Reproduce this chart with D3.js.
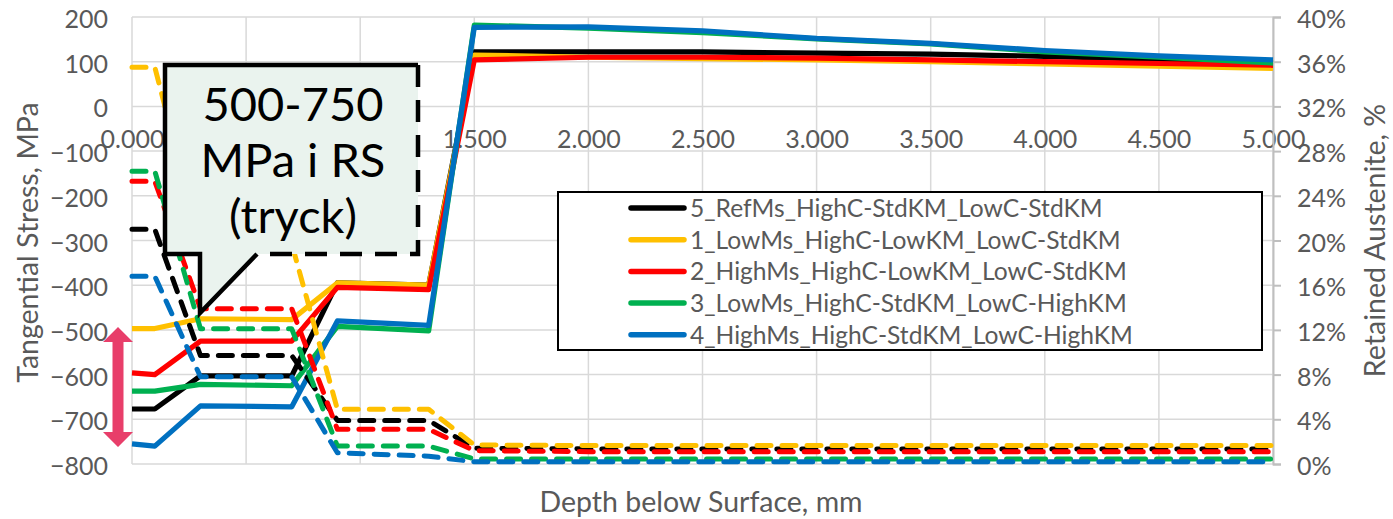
<!DOCTYPE html>
<html><head><meta charset="utf-8">
<script src="https://cdn.jsdelivr.net/npm/d3@7"></script>
<style>
html,body{margin:0;padding:0;background:#fff;}
text{font-family:Lato,"Open Sans",sans-serif;}
</style></head>
<body><svg id="c" width="1393" height="519"></svg>
<script>
// ---- data ----
const depth = [0, 0.1, 0.3, 0.7, 0.9, 1.3, 1.5, 2.0, 2.5, 3.0, 3.5, 4.0, 4.5, 5.0];
const seriesNames = [
  "5_RefMs_HighC-StdKM_LowC-StdKM",
  "1_LowMs_HighC-LowKM_LowC-StdKM",
  "2_HighMs_HighC-LowKM_LowC-StdKM",
  "3_LowMs_HighC-StdKM_LowC-HighKM",
  "4_HighMs_HighC-StdKM_LowC-HighKM"
];
const seriesColors = ["#000000", "#FFC000", "#FF0000", "#00B050", "#0070C0"];
// tangential stress, MPa (left axis)
const stress5 = [-677, -677, -603, -603, -395, -400, 122, 122, 122, 119, 117, 112, 105, 97];
const stress1 = [-497, -497, -475, -477, -395, -400, 115, 110, 107, 104, 100, 95, 90, 85];
const stress2 = [-596, -600, -525, -525, -405, -410, 104, 110, 110, 108, 104, 100, 96, 92];
const stress3 = [-637, -637, -622, -625, -492, -502, 182, 175, 165, 151, 140, 122, 110, 97];
const stress4 = [-755, -760, -670, -672, -480, -490, 177, 178, 169, 152, 141, 125, 113, 104];
// retained austenite, fraction (right axis)
const ra5 = [0.210, 0.210, 0.097, 0.097, 0.039, 0.039, 0.014, 0.0135, 0.0135, 0.0135, 0.0135, 0.0135, 0.0135, 0.0135];
const ra1 = [0.355, 0.355, 0.197, 0.197, 0.049, 0.049, 0.017, 0.0165, 0.0165, 0.0165, 0.0165, 0.0165, 0.0165, 0.0165];
const ra2 = [0.253, 0.253, 0.139, 0.139, 0.031, 0.031, 0.012, 0.011, 0.011, 0.011, 0.011, 0.011, 0.011, 0.011];
const ra3 = [0.262, 0.262, 0.121, 0.121, 0.016, 0.016, 0.0045, 0.0045, 0.0045, 0.0045, 0.0045, 0.0045, 0.0045, 0.0045];
const ra4 = [0.168, 0.168, 0.078, 0.078, 0.010, 0.007, 0.002, 0.002, 0.002, 0.002, 0.002, 0.002, 0.002, 0.002];
const stressTicks = [-800, -700, -600, -500, -400, -300, -200, -100, 0, 100, 200];
const raTicks = [0, 0.04, 0.08, 0.12, 0.16, 0.20, 0.24, 0.28, 0.32, 0.36, 0.40];
const depthTicks = [0, 0.5, 1, 1.5, 2, 2.5, 3, 3.5, 4, 4.5, 5];
const calloutLines = ["500-750", "MPa i RS", "(tryck)"];
const xTitle = "Depth below Surface, mm";
const yTitle = "Tangential Stress, MPa";
const y2Title = "Retained Austenite, %";

const stressSeries = [stress5, stress1, stress2, stress3, stress4];
const raSeries = [ra5, ra1, ra2, ra3, ra4];

// ---- layout ----
const svg = d3.select("#c");
const L = 132, R = 1273, T = 17, B = 464;
const x = d3.scaleLinear().domain([0, 5]).range([L, R]);
const y = d3.scaleLinear().domain([-800, 200]).range([B, T]);
const y2 = d3.scaleLinear().domain([0, 0.40]).range([B, T]);
const grey = "#595959", gridC = "#D9D9D9";
const tickFs = 25, titleFs = 28.5;

// gridlines
svg.append("g").selectAll("line").data(stressTicks).join("line")
  .attr("x1", L).attr("x2", R).attr("y1", d => y(d)).attr("y2", d => y(d))
  .attr("stroke", gridC).attr("stroke-width", 1.5);
svg.append("g").selectAll("line").data(depthTicks).join("line")
  .attr("x1", d => x(d)).attr("x2", d => x(d)).attr("y1", T).attr("y2", B)
  .attr("stroke", gridC).attr("stroke-width", 1.5);

// left axis labels
const yAxis = d3.axisLeft(y).tickValues(stressTicks).tickSize(0).tickPadding(24);
const gy = svg.append("g").attr("transform", `translate(${L},0)`).call(yAxis);
gy.select(".domain").remove();
gy.selectAll("text").attr("font-size", tickFs).attr("fill", grey).attr("font-family", "Lato").attr("dy", "0.42em");

// x axis labels at y=0
const xAxis = d3.axisBottom(x).tickValues(depthTicks).tickSize(0).tickPadding(24).tickFormat(d3.format(".3f"));
const gx = svg.append("g").attr("transform", `translate(0,${y(0)})`).call(xAxis);
gx.select(".domain").remove();
gx.selectAll("text").attr("font-size", tickFs).attr("fill", grey).attr("font-family", "Lato");

// right axis
const y2Axis = d3.axisRight(y2).tickValues(raTicks).tickSize(8).tickPadding(16).tickFormat(d3.format(".0%"));
const gy2 = svg.append("g").attr("transform", `translate(${R},0)`).call(y2Axis);
gy2.select(".domain").attr("stroke", "#BFBFBF").attr("stroke-width", 2);
gy2.selectAll(".tick line").attr("stroke", "#BFBFBF").attr("stroke-width", 2);
gy2.selectAll("text").attr("font-size", tickFs).attr("fill", grey).attr("font-family", "Lato").attr("dy", "0.42em");

// titles
svg.append("text").attr("transform", `translate(38,${(T+B)/2+2}) rotate(-90)`).attr("text-anchor", "middle")
  .attr("font-size", titleFs).attr("fill", grey).text(yTitle);
svg.append("text").attr("transform", `translate(1385,${(T+B)/2}) rotate(-90)`).attr("text-anchor", "middle")
  .attr("font-size", titleFs).attr("fill", grey).text(y2Title);
svg.append("text").attr("x", 701).attr("y", 512).attr("text-anchor", "middle")
  .attr("font-size", titleFs).attr("fill", grey).text(xTitle);

// lines
const lineS = d3.line().x((d, i) => x(depth[i])).y(d => y(d));
const lineR = d3.line().x((d, i) => x(depth[i])).y(d => y2(d));
stressSeries.forEach((s, k) => {
  svg.append("path").attr("d", lineS(s)).attr("fill", "none")
    .attr("stroke", seriesColors[k]).attr("stroke-width", 5.2).attr("stroke-linejoin", "round");
});
raSeries.forEach((s, k) => {
  svg.append("path").attr("d", lineR(s)).attr("fill", "none")
    .attr("stroke", seriesColors[k]).attr("stroke-width", 5).attr("stroke-linejoin", "round")
    .attr("stroke-linecap", "round").attr("stroke-dasharray", "14,11");
});

// callout
const cx0 = 165, cx1 = 418, cy0 = 65, cy1 = 254;
svg.append("path").attr("d",
  `M${cx0},${cy0}H${cx1}V${cy1}H257L200,313V${cy1}H${cx0}Z`)
  .attr("fill", "#EAF3EE").attr("stroke", "none");
svg.append("path").attr("d", `M257,${cy1}L200,313V${cy1}H${cx0}V${cy0}H${cx1}`)
  .attr("fill", "none").attr("stroke", "#000").attr("stroke-width", 4.5).attr("stroke-linejoin", "miter");
svg.append("path").attr("d", `M${cx1},${cy0}V${cy1}H257`)
  .attr("fill", "none").attr("stroke", "#000").attr("stroke-width", 4.5).attr("stroke-dasharray", "22,13");
svg.append("g").selectAll("text").data(calloutLines).join("text")
  .attr("x", 293).attr("y", (d, i) => 121 + i * 56).attr("text-anchor", "middle")
  .attr("font-size", 47).attr("fill", "#000").text(d => d);

// pink double arrow
const ax = 118, aTop = 327, aBot = 447, hw = 15, hh = 15, sw = 5.5;
svg.append("path").attr("d",
  `M${ax},${aTop}L${ax+hw},${aTop+hh}H${ax+sw}V${aBot-hh}H${ax+hw}L${ax},${aBot}L${ax-hw},${aBot-hh}H${ax-sw}V${aTop+hh}H${ax-hw}Z`)
  .attr("fill", "#E83E6A");

// legend
const lg = svg.append("g");
lg.append("rect").attr("x", 558).attr("y", 192).attr("width", 704).attr("height", 158)
  .attr("fill", "#fff").attr("stroke", "#000").attr("stroke-width", 2);
seriesNames.forEach((n, k) => {
  const yy = 208 + k * 31.7;
  lg.append("line").attr("x1", 631).attr("x2", 684).attr("y1", yy).attr("y2", yy)
    .attr("stroke", seriesColors[k]).attr("stroke-width", 5.5).attr("stroke-linecap", "round");
  lg.append("text").attr("x", 690).attr("y", yy).attr("dy", "0.36em")
    .attr("font-size", 24.6).attr("fill", grey).text(n);
});
</script></body></html>
